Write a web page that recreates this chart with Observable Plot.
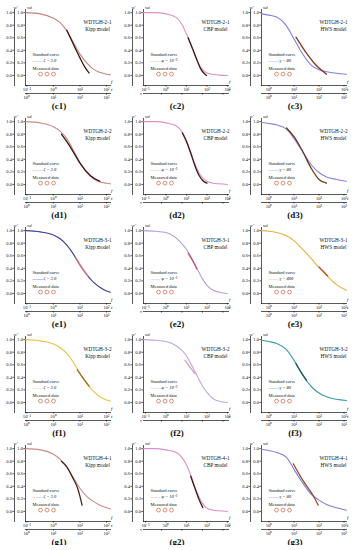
<!DOCTYPE html>
<html><head><meta charset="utf-8">
<script src="https://cdn.jsdelivr.net/npm/d3@7"></script>
<script src="https://cdn.jsdelivr.net/npm/@observablehq/plot@0.6"></script>
<style>
html,body{margin:0;padding:0;background:#fff;}
#grid{display:grid;grid-template-columns:118px 118px 118px;width:356px;}
.cell{width:118px;height:109px;position:relative;}
.cap{position:absolute;left:0;width:118px;top:101px;text-align:center;font:bold 9px "Liberation Serif";line-height:10px;color:#111;}
svg{display:block}
</style></head><body><div id="grid"></div>
<script>
// x grids (dimensionless time f) per model column
const kippF = [0.09, 0.32, 1, 1.8, 3.2, 5.6, 10, 18, 32, 56, 100, 140];
const cbpF  = [0.08, 0.3, 1, 3.2, 6.3, 10, 16, 25, 40, 63, 100, 200, 400, 1000];
const hwsF  = [0.5, 1, 2, 5, 10, 20, 50, 100, 200, 500, 1250];
const yTicks = [0, 0.2, 0.4, 0.6, 0.8, 1.0];

// row c: WDTGH-2-1
const c1W = [1.0,0.98,0.91,0.84,0.71,0.53,0.34,0.2,0.1,0.05,0.02,0.01];
const c1MF = [3.2,5.6,10,16,22], c1MW = [0.72,0.5,0.28,0.12,0.04];
const c2W = [1.0,1.0,0.98,0.92,0.8,0.66,0.5,0.33,0.18,0.09,0.04,0.015,0.005,0.0];
const c2MF = [12,20,32,50,80,95], c2MW = [0.6,0.42,0.25,0.1,0.02,0.0];
const c3W = [0.98,0.96,0.93,0.79,0.58,0.37,0.16,0.09,0.06,0.035,0.02];
const c3MF = [12,32,66,200], c3MW = [0.61,0.35,0.19,0.02];
// row d: WDTGH-2-2
const d1W = [1.0,0.98,0.92,0.85,0.73,0.55,0.35,0.19,0.09,0.04,0.02,0.01];
const d1MF = [2,3.2,5.6,10,25,56], d1MW = [0.8,0.68,0.52,0.34,0.14,0.05];
const d2W = [1.0,1.0,0.98,0.93,0.83,0.7,0.52,0.34,0.19,0.1,0.05,0.02,0.01,0.0];
const d2MF = [6.3,10,16,25,40,63,100], d2MW = [0.82,0.68,0.5,0.31,0.15,0.06,0.02];
const d3W = [0.99,0.97,0.95,0.88,0.73,0.55,0.31,0.19,0.12,0.08,0.05];
const d3MF = [5,10,20,50,100,200], d3MW = [0.9,0.76,0.56,0.25,0.08,0.02];
// row e: WDTGH-3-1
const e1W = [1.0,0.98,0.93,0.87,0.77,0.63,0.45,0.3,0.18,0.1,0.04,0.02];
const e1MF = [7,12,20], e1MW = [0.57,0.41,0.28];
const e2W = [1.0,0.99,0.97,0.88,0.78,0.7,0.59,0.47,0.34,0.22,0.13,0.05,0.02,0.0];
const e2MF = [12,20,32], e2MW = [0.64,0.52,0.39];
const e3W = [1.0,0.99,0.97,0.92,0.84,0.72,0.55,0.41,0.29,0.14,0.05];
const e3MF = [100,160,220], e3MW = [0.42,0.34,0.28];
// row f: WDTGH-3-2
const f1W = [1.0,0.98,0.93,0.87,0.78,0.64,0.46,0.3,0.18,0.09,0.04,0.02];
const f1MF = [8,14,22], f1MW = [0.52,0.37,0.26];
const f2W = [1.0,0.99,0.97,0.9,0.82,0.74,0.62,0.5,0.37,0.25,0.16,0.06,0.02,0.0];
const f2MF = [8.5,14,26], f2MW = [0.67,0.57,0.46];
const f3W = [0.99,0.97,0.94,0.84,0.67,0.46,0.25,0.15,0.09,0.05,0.03];
const f3MF = [12,20,32], f3MW = [0.62,0.47,0.35];
// row g: WDTGH-4-1
const g1W = [1.0,0.98,0.91,0.83,0.71,0.54,0.37,0.24,0.16,0.1,0.06,0.04];
const g1MF = [2,3.2,5.6,8,10,12], g1MW = [0.8,0.71,0.52,0.38,0.24,0.1];
const g2W = [1.0,1.0,0.98,0.94,0.85,0.74,0.58,0.4,0.24,0.12,0.05,0.02,0.01,0.0];
const g2MF = [16,25,40,63], g2MW = [0.56,0.38,0.2,0.06];
const g3W = [0.99,0.97,0.94,0.86,0.67,0.48,0.27,0.18,0.11,0.06,0.02];
const g3MF = [9.3,23,59,93], g3MW = [0.76,0.49,0.25,0.1];

const wells = ["WDTGH-2-1","WDTGH-2-2","WDTGH-3-1","WDTGH-3-2","WDTGH-4-1"];
const models = ["Kipp model","CBP model","HWS model"];
const params = {kipp:"ζ = 3.0", cbp:"φ = 10⁻³", hws:"γ = 80", hws400:"γ = 400"};

const axesCfg = {
  kipp:{F:kippF, domain:[0.0891,141.3], upper:[0.1,1,10,100], lowerPos:[0.1,1,10,100], lowerExp:[0,1,2,3]},
  cbp:{F:cbpF, domain:[0.0794,1122], upper:[0.1,1,10,100,1000], lowerPos:[0.06,0.6,6,60,600], lowerExp:[-1,0,1,2,3]},
  hws:{F:hwsF, domain:[0.5,1259], upper:[1,10,100,1000], lowerPos:[1,10,100,1000], lowerExp:[0,1,2,3]}
};

const panels = [
  {id:"c1",m:"kipp",W:c1W,MF:c1MF,MW:c1MW,col:"#c8837c",mc:"#3c1512",p:params.kipp},
  {id:"c2",m:"cbp",W:c2W,MF:c2MF,MW:c2MW,col:"#e28fc6",mc:"#3a1c12",p:params.cbp},
  {id:"c3",m:"hws",W:c3W,MF:c3MF,MW:c3MW,col:"#7d80e3",mc:"#8b3520",p:params.hws},
  {id:"d1",m:"kipp",W:d1W,MF:d1MF,MW:d1MW,col:"#cf8a84",mc:"#3c1512",p:params.kipp},
  {id:"d2",m:"cbp",W:d2W,MF:d2MF,MW:d2MW,col:"#e28fc6",mc:"#3a1c12",p:params.cbp},
  {id:"d3",m:"hws",W:d3W,MF:d3MF,MW:d3MW,col:"#8a7fe0",mc:"#6b3a1a",p:params.hws},
  {id:"e1",m:"kipp",W:e1W,MF:e1MF,MW:e1MW,col:"#3a3d99",mc:"#e47c7c",p:params.kipp},
  {id:"e2",m:"cbp",W:e2W,MF:e2MF,MW:e2MW,col:"#b79be3",mc:"#c9545a",p:params.cbp},
  {id:"e3",m:"hws",W:e3W,MF:e3MF,MW:e3MW,col:"#e5b53f",mc:"#b8452f",p:params.hws400},
  {id:"f1",m:"kipp",W:f1W,MF:f1MF,MW:f1MW,col:"#e8c443",mc:"#9a6c20",p:params.kipp},
  {id:"f2",m:"cbp",W:f2W,MF:f2MF,MW:f2MW,col:"#c0a6e6",mc:"#e59ab5",p:params.cbp},
  {id:"f3",m:"hws",W:f3W,MF:f3MF,MW:f3MW,col:"#3a9aa6",mc:"#23545c",p:params.hws},
  {id:"g1",m:"kipp",W:g1W,MF:g1MF,MW:g1MW,col:"#cf8a84",mc:"#4a2414",p:params.kipp},
  {id:"g2",m:"cbp",W:g2W,MF:g2MF,MW:g2MW,col:"#d98fd0",mc:"#3a1c12",p:params.cbp},
  {id:"g3",m:"hws",W:g3W,MF:g3MF,MW:g3MW,col:"#7d80e3",mc:"#9a4a2a",p:params.hws}
];

const SUP = {"-":"⁻","0":"⁰","1":"¹","2":"²","3":"³","4":"⁴"};
const pow = e => "10" + String(e).split("").map(c => SUP[c]).join("");
const INK = "#111";

function T(text, o){ return Plot.text([0], {text: () => text, fill: INK, ...o}); }
function ring(dx, dy, c){ return Plot.dot([0], {frameAnchor:"top-left", dx, dy, r:1.9, stroke:c, strokeWidth:0.7, fill:"none"}); }

function panel(p, rowIdx, colIdx){
  const ax = axesCfg[p.m];
  const std = ax.F.map((f,i) => ({f, w:p.W[i]}));
  const meas = p.MF.map((f,i) => ({f, w:p.MW[i]}));
  const lowerLab = new Map(ax.lowerPos.map((v,i) => [v, pow(ax.lowerExp[i])]));
  const axOpts = {tickSize:1.6, tickPadding:0.8, fontSize:4.6, label:null, strokeWidth:0.7, stroke:INK, color:INK};
  const circ = "#d2603e";
  return Plot.plot({
    width:118, height:101, marginLeft:25, marginRight:8, marginTop:9, marginBottom:16,
    style:{fontFamily:"Liberation Serif", fontSize:"4.6px", background:"transparent", overflow:"visible", color:INK},
    x:{type:"log", domain:ax.domain, axis:null},
    y:{domain:[-0.16,1.05], axis:null},
    marks:[
      Plot.frame({anchor:"left", strokeWidth:0.7, stroke:INK}),
      Plot.frame({anchor:"left", dx:-11, strokeWidth:0.7, stroke:INK}),
      Plot.frame({anchor:"bottom", strokeWidth:0.7, stroke:INK}),
      Plot.frame({anchor:"bottom", dy:8, strokeWidth:0.7, stroke:INK}),
      Plot.axisY({...axOpts, ticks:yTicks, tickFormat:".1f"}),
      Plot.axisY({...axOpts, ticks:yTicks, tickFormat:".1f", dx:-11}),
      Plot.axisX({...axOpts, ticks:ax.upper, tickFormat:d => pow(Math.round(Math.log10(d)))}),
      Plot.axisX({...axOpts, ticks:ax.lowerPos, tickFormat:d => lowerLab.get(d), dy:8}),
      Plot.line(std, {x:"f", y:"w", stroke:p.col, strokeWidth:1.1, curve:"monotone-x"}),
      Plot.line(meas, {x:"f", y:"w", stroke:p.mc, strokeWidth:1.3, curve:"monotone-x"}),
      T(wells[rowIdx], {frameAnchor:"top-right", dx:-13, dy:11, textAnchor:"middle", fontSize:5.2}),
      T(models[colIdx], {frameAnchor:"top-right", dx:-13, dy:17.5, textAnchor:"middle", fontSize:5.2}),
      T("Standard curve", {frameAnchor:"top-left", dx:7, dy:43.5, textAnchor:"start", fontSize:4.5}),
      Plot.text([0], {text:() => "———", frameAnchor:"top-left", dx:7, dy:49.6, textAnchor:"start", fontSize:3.4, fill:p.col, fontWeight:"bold"}),
      T(p.p, {frameAnchor:"top-left", dx:18, dy:49.6, textAnchor:"start", fontSize:4.5, fontStyle:"italic"}),
      T("Measured data", {frameAnchor:"top-left", dx:7, dy:57.3, textAnchor:"start", fontSize:4.5}),
      ring(15, 64.6, circ), ring(21.5, 64.6, circ), ring(28, 64.6, circ),
      T("w′", {frameAnchor:"top-left", dx:-12, dy:-4, fontSize:5, fontStyle:"italic"}),
      T("w", {frameAnchor:"top-left", dx:1.5, dy:-4, fontSize:5, fontStyle:"italic"}),
      T("d", {frameAnchor:"top-left", dx:4.6, dy:-2.6, fontSize:3.4, fontStyle:"italic"}),
      T("f", {frameAnchor:"bottom-right", dx:2, dy:-3, fontSize:5, fontStyle:"italic"}),
      T("t", {frameAnchor:"bottom-right", dx:2, dy:5, fontSize:5, fontStyle:"italic"})
    ]
  });
}

const grid = document.getElementById("grid");
panels.forEach((p, k) => {
  const r = Math.floor(k/3), c = k % 3;
  const cell = document.createElement("div");
  cell.className = "cell";
  cell.appendChild(panel(p, r, c));
  const cap = document.createElement("div");
  cap.className = "cap";
  cap.textContent = "(" + p.id + ")";
  cell.appendChild(cap);
  grid.appendChild(cell);
});
</script></body></html>
